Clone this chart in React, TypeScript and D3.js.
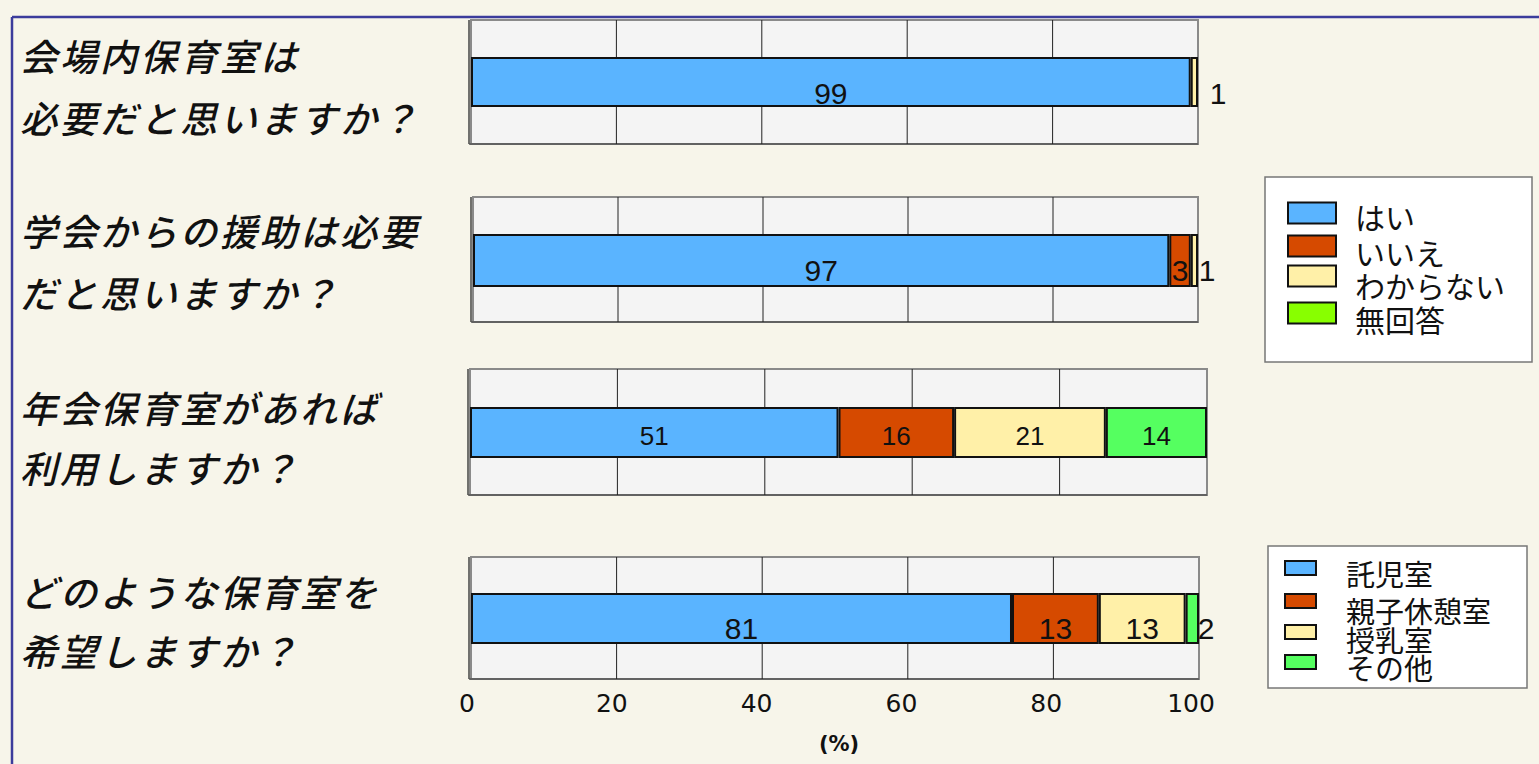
import React from "react";
import * as d3 from "d3";

// ---- data ----
const questionLines: string[][] = [
  ["会場内保育室は", "必要だと思いますか？"],
  ["学会からの援助は必要", "だと思いますか？"],
  ["年会保育室があれば", "利用しますか？"],
  ["どのような保育室を", "希望しますか？"],
];
const answerCategories = ["はい", "いいえ", "わからない", "無回答"];
const roomCategories = ["託児室", "親子休憩室", "授乳室", "その他"];
const q1Values = [99, 0, 1, 0];
const q2Values = [97, 3, 1, 0];
const q3Values = [51, 16, 21, 14];
const q4Values = [81, 13, 13, 2];
const axisTicks = [0, 20, 40, 60, 80, 100];
const axisUnit = "(%)";

// ---- styles / layout ----
const barColors = ["#5ab4ff", "#d64a00", "#fff0a8", "#55ff60"];
const legend1Colors = ["#5ab4ff", "#d64a00", "#fff0a8", "#88ff00"];
const legend2Colors = ["#5ab4ff", "#d64a00", "#fff0a8", "#55ff60"];

const panels = [
  { values: q1Values, left: 471, right: 1198, top: 20, bottom: 144, barTop: 58, barBottom: 106, font: 30, dy: 11, textY: [55, 117], smallDx: 20 },
  { values: q2Values, left: 473, right: 1198, top: 197, bottom: 322, barTop: 235, barBottom: 286, font: 30, dy: 10, textY: [230, 292], smallDx: 9 },
  { values: q3Values, left: 470, right: 1207, top: 369, bottom: 495, barTop: 408, barBottom: 457, font: 26, dy: 3, textY: [407, 467], smallDx: 9 },
  { values: q4Values, left: 471, right: 1199, top: 557, bottom: 679, barTop: 594, barBottom: 643, font: 30, dy: 10, textY: [591, 650], smallDx: 7 },
];

const W = 1539;
const H = 764;
const numFont = "'DejaVu Sans', Verdana, sans-serif";
const barNumFont = "'Liberation Sans', Arial, sans-serif";
const jpFont = "'Noto Sans CJK JP', 'Noto Sans', sans-serif";

function Panel({ p }: { p: (typeof panels)[number] }) {
  const total = d3.sum(p.values);
  const x = d3.scaleLinear().domain([0, total]).range([p.left, p.right]);
  const grid = d3.scaleLinear().domain([0, 100]).range([p.left, p.right]);
  let cum = 0;
  const segs = p.values.map((v, i) => {
    const s = { v, i, x0: x(cum), x1: x(cum + v) };
    cum += v;
    return s;
  });
  return (
    <g>
      <rect x={p.left} y={p.top} width={p.right - p.left} height={p.bottom - p.top} fill="#f4f4f4" stroke="#8a8a8a" strokeWidth={2} />
      <line x1={p.left - 2} x2={p.left - 2} y1={p.top} y2={p.bottom} stroke="#444" strokeWidth={1.5} />
      <line x1={p.left - 2} x2={p.right} y1={p.bottom} y2={p.bottom} stroke="#555" strokeWidth={1.5} />
      {[20, 40, 60, 80].map((t) => (
        <line key={t} x1={grid(t)} x2={grid(t)} y1={p.top} y2={p.bottom} stroke="#222" strokeWidth={1} />
      ))}
      {segs.filter((s) => s.v > 0).map((s) => (
        <rect key={s.i} x={s.x0 + 1} y={p.barTop} width={Math.max(0, s.x1 - s.x0 - 2)} height={p.barBottom - p.barTop}
          fill={barColors[s.i]} stroke="#111" strokeWidth={2} />
      ))}
      {segs.filter((s) => s.v > 0).map((s) => {
        const w = s.x1 - s.x0;
        const cx = w < 16 ? s.x1 + p.smallDx : (s.x0 + s.x1) / 2;
        return (
          <text key={"t" + s.i} x={cx} y={(p.barTop + p.barBottom) / 2 + p.dy} textAnchor="middle" dominantBaseline="central"
            fontFamily={barNumFont} fontSize={p.font} fill="#111">{s.v}</text>
        );
      })}
    </g>
  );
}

function Legend({ x, y, w, h, labels, colors, sw, swH, swX, textX, rows, fontSize }: any) {
  return (
    <g>
      <rect x={x} y={y} width={w} height={h} fill="#ffffff" stroke="#777" strokeWidth={1.5} />
      {labels.map((l: string, i: number) => (
        <g key={l}>
          <rect x={swX} y={rows[i].s - swH / 2} width={sw} height={swH} fill={colors[i]} stroke="#111" strokeWidth={2} />
          <text x={textX} y={rows[i].t} dominantBaseline="central" fontFamily={jpFont} fontSize={fontSize} fill="#111">{l}</text>
        </g>
      ))}
    </g>
  );
}

export default function App() {
  const bottom = panels[3];
  const ax = d3.scaleLinear().domain([0, 100]).range([bottom.left - 4, bottom.right - 8]);
  return (
    <svg width={W} height={H} style={{ position: "absolute", left: 0, top: 0, display: "block" }}>
      <rect x={0} y={0} width={W} height={H} fill="#f7f5ea" />
      <line x1={12} x2={W} y1={17} y2={17} stroke="#3c3c9c" strokeWidth={2.5} />
      <line x1={12} x2={12} y1={17} y2={H} stroke="#3c3c9c" strokeWidth={2.5} />
      {panels.map((p, i) => (
        <g key={i}>
          {questionLines[i].map((line, j) => (
            <text key={j} x={20} y={p.textY[j]} dominantBaseline="central" fontFamily={jpFont} fontStyle="italic"
              fontWeight={500} fontSize={37} letterSpacing={3} fill="#111">{line}</text>
          ))}
          <Panel p={p} />
        </g>
      ))}
      {axisTicks.map((t) => (
        <text key={t} x={ax(t)} y={703} textAnchor="middle" dominantBaseline="central" fontFamily={numFont} fontSize={25} fill="#111">{t}</text>
      ))}
      <text x={839} y={744} textAnchor="middle" dominantBaseline="central" fontFamily={numFont} fontWeight="bold" fontSize={21} fill="#111">{axisUnit}</text>
      <Legend x={1265} y={177} w={267} h={185} labels={answerCategories} colors={legend1Colors}
        sw={48} swH={21} swX={1288} textX={1355} fontSize={30}
        rows={[{ s: 213, t: 216 }, { s: 246, t: 252 }, { s: 276, t: 285 }, { s: 313, t: 319 }]} />
      <Legend x={1268} y={546} w={259} h={142} labels={roomCategories} colors={legend2Colors}
        sw={31} swH={14} swX={1285} textX={1346} fontSize={29}
        rows={[{ s: 568, t: 573 }, { s: 601, t: 610 }, { s: 632, t: 639 }, { s: 662, t: 667 }]} />
    </svg>
  );
}
